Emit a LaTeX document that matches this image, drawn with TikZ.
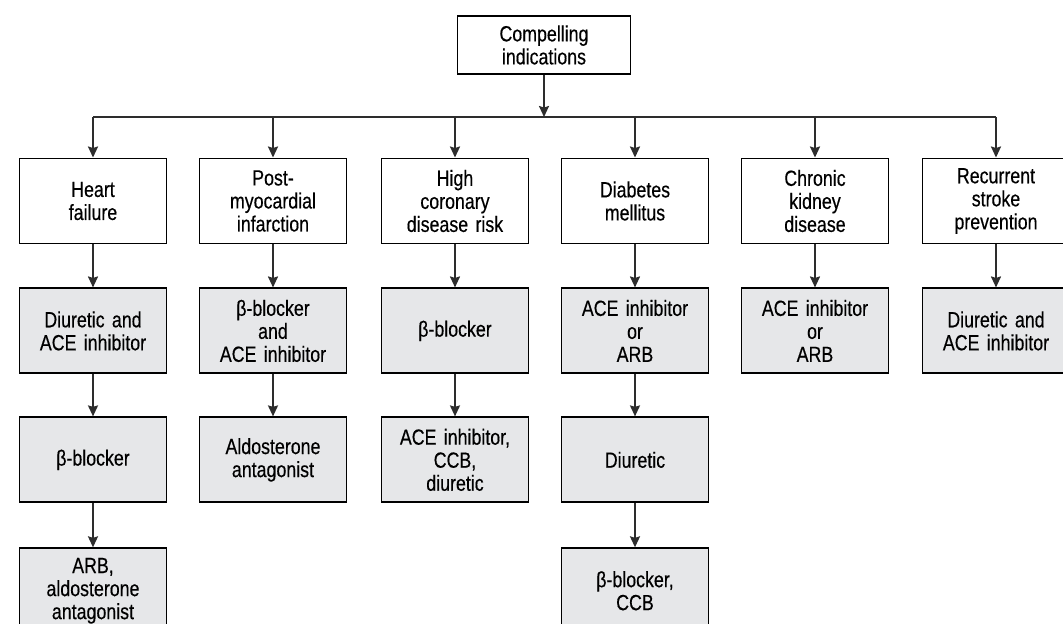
\documentclass[tikz,border=0pt]{standalone}
\usepackage{fontspec}
\setmainfont[FakeStretch=0.81, FakeBold=0.4]{Liberation Sans}
\usepackage{tikz}
\usetikzlibrary{positioning}
\usetikzlibrary{arrows.meta}

\definecolor{boxgray}{RGB}{230,231,233}
\definecolor{linegray}{RGB}{45,45,45}

\tikzset{
  indication/.style={draw=black, line width=1.1pt, fill=white, align=center,
    text width=2.7cm, minimum width=2.94cm, minimum height=1.70cm,
    inner sep=2pt, font=\fontsize{12.5}{13.1}\selectfont},
  therapy/.style={indication, fill=boxgray},
  link/.style={->, draw=linegray, line width=1.1pt},
}

\begin{document}
\begin{tikzpicture}[%
  >={Stealth[length=0.22cm, width=0.2cm, inset=0.03cm]},
  node distance=0.86cm,
]

  \useasboundingbox (0,0) rectangle (21.26,-12.46);

  % top box and bus line
  \node[indication, minimum width=3.46cm, minimum height=1.16cm, text width=3.2cm]
    (ci) at (10.88,-0.90) {Compelling\\indications};
  \coordinate (bus) at (0,-2.34);

  % compelling indications
  \node[indication] (hf)  at (1.86,-4.02)  {Heart\\failure};
  \node[indication] (pmi) at (5.46,-4.02)  {Post-\\myocardial\\infarction};
  \node[indication] (hcr) at (9.10,-4.02)  {High\\coronary\\disease risk};
  \node[indication] (dm)  at (12.70,-4.02) {Diabetes\\mellitus};
  \node[indication] (ckd) at (16.30,-4.02) {Chronic\\kidney\\disease};
  \node[indication] (rsp) at (19.92,-4.02) {Recurrent\\stroke\\prevention};

  % recommended drugs
  \node[therapy, below=of hf]   (hfa)  {Diuretic and\\ACE inhibitor};
  \node[therapy, below=0.84cm of hfa]  (hfb)  {β-blocker};
  \node[therapy, below=0.88cm of hfb]  (hfc)  {ARB,\\aldosterone\\antagonist};

  \node[therapy, below=of pmi]  (pmia) {β-blocker\\and\\ACE inhibitor};
  \node[therapy, below=0.84cm of pmia] (pmib) {Aldosterone\\antagonist};

  \node[therapy, below=of hcr]  (hcra) {β-blocker};
  \node[therapy, below=0.84cm of hcra] (hcrb) {ACE inhibitor,\\CCB,\\diuretic};

  \node[therapy, below=of dm]   (dma)  {ACE inhibitor\\or\\ARB};
  \node[therapy, below=0.84cm of dma]  (dmb)  {Diuretic};
  \node[therapy, below=0.88cm of dmb]  (dmc)  {β-blocker,\\CCB};

  \node[therapy, below=of ckd]  (ckda) {ACE inhibitor\\or\\ARB};

  \node[therapy, below=of rsp]  (rspa) {Diuretic and\\ACE inhibitor};

  % connectors
  \draw[link] (ci.south) -- (ci.south |- bus);
  \draw[draw=linegray, line width=1.1pt] (hf.north |- bus) -- (rsp.north |- bus);

  \draw[link] (hf.north |- bus)  -- (hf.north);
  \draw[link] (pmi.north |- bus) -- (pmi.north);
  \draw[link] (hcr.north |- bus) -- (hcr.north);
  \draw[link] (dm.north |- bus)  -- (dm.north);
  \draw[link] (ckd.north |- bus) -- (ckd.north);
  \draw[link] (rsp.north |- bus) -- (rsp.north);

  \draw[link] (hf)   -- (hfa);
  \draw[link] (hfa)  -- (hfb);
  \draw[link] (hfb)  -- (hfc);
  \draw[link] (pmi)  -- (pmia);
  \draw[link] (pmia) -- (pmib);
  \draw[link] (hcr)  -- (hcra);
  \draw[link] (hcra) -- (hcrb);
  \draw[link] (dm)   -- (dma);
  \draw[link] (dma)  -- (dmb);
  \draw[link] (dmb)  -- (dmc);
  \draw[link] (ckd)  -- (ckda);
  \draw[link] (rsp)  -- (rspa);

\end{tikzpicture}
\end{document}
